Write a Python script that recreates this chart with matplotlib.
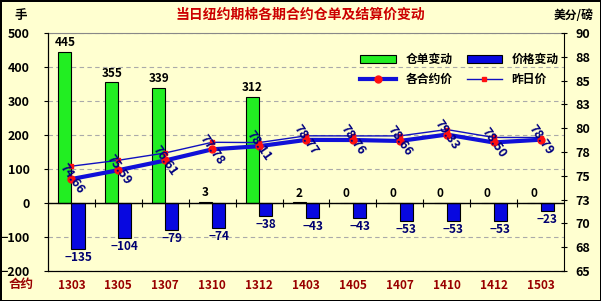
import numpy as np
import matplotlib
matplotlib.use("Agg")
import matplotlib.pyplot as plt

plt.rcParams['font.family'] = ['Noto Sans CJK SC', 'DejaVu Sans']
plt.rcParams['font.weight'] = 'bold'
plt.rcParams['axes.unicode_minus'] = False

contracts = ["1303", "1305", "1307", "1310", "1312", "1403", "1405", "1407", "1410", "1412", "1503"]
receipt_chg = [445, 355, 339, 3, 312, 2, 0, 0, 0, 0, 0]
price_chg = [-135, -104, -79, -74, -38, -43, -43, -53, -53, -53, -23]
settle = [74.66, 75.59, 76.61, 77.78, 78.11, 78.77, 78.76, 78.66, 79.33, 78.50, 78.79]
prev_settle = [76.01, 76.63, 77.40, 78.52, 78.49, 79.20, 79.19, 79.19, 79.86, 79.03, 79.02]

bg = '#ffffd0'
fig = plt.figure(figsize=(6.01, 3.01), dpi=100, facecolor=bg, edgecolor='black', linewidth=2)
ax = fig.add_axes([48/601, 1-271/301, 516/601, 238/301])
ax.set_facecolor(bg)

x = np.arange(len(contracts))
w = 0.28
b1 = ax.bar(x - w/2, receipt_chg, w, color='#22ee22', edgecolor='black', linewidth=0.8, label='仓单变动', zorder=3)
b2 = ax.bar(x + w/2, price_chg, w, color='#0808e0', edgecolor='black', linewidth=0.8, label='价格变动', zorder=3)

for xi, v in zip(x, receipt_chg):
    ax.text(xi - w/2, v + 8, str(v), ha='center', va='bottom', fontsize=8.5, color='black', zorder=6)
for xi, v in zip(x, price_chg):
    ax.text(xi + w/2, v - 6, f"−{abs(v)}", ha='center', va='top', fontsize=8.5, color='#000070', zorder=6)

ax.set_xlim(-0.5, len(contracts) - 0.5)
ax.set_ylim(-200, 500)
ax.set_yticks(np.arange(-200, 501, 100))
ax.set_yticklabels([f"−{abs(t)}" if t < 0 else str(t) for t in range(-200, 501, 100)])
ax.yaxis.grid(True, linestyle=(0, (4, 3)), color='#aaaaaa', linewidth=0.8)
ax.set_axisbelow(True)
ax.axhline(0, color='black', linewidth=1, zorder=4)
ax.set_xticks(x)
ax.set_xticklabels(contracts, color='#990000', fontsize=8.5)
ax.tick_params(axis='x', length=0, pad=6)
ax.tick_params(axis='y', labelsize=9, length=3, pad=10)
ax.spines['top'].set_color('#888888')
ax.spines['right'].set_visible(False)

# tick marks along the zero line, between categories
zx = ax.secondary_xaxis(200/700)
zx.set_xticks(x[:-1] + 0.5)
zx.set_xticklabels([])
zx.tick_params(direction='inout', length=6, color='black')
zx.spines['bottom'].set_visible(False)

ax2 = ax.twinx()
ax2.set_ylim(65, 90)
rt = np.arange(65, 90.01, 2.5)
ax2.set_yticks(rt)
ax2.set_yticklabels([str(int(v + 0.5)) for v in rt])
ax2.tick_params(axis='y', labelsize=9, length=4, direction='inout', pad=6)
ax2.spines['right'].set_color('black')
ax2.spines['top'].set_visible(False)

l2, = ax2.plot(x, prev_settle, color='#1010c0', linewidth=1, marker='s', markersize=3,
               markerfacecolor='#ff1010', markeredgecolor='#ff1010', label='昨日价', zorder=4)
l1, = ax2.plot(x, settle, color='#1010d8', linewidth=3, marker='o', markersize=5,
               markerfacecolor='#ff1010', markeredgecolor='#ff1010', label='各合约价', zorder=5)
for xi, v in zip(x, settle):
    ax2.text(xi, v, f"{v:.2f}", rotation=-55, ha='center', va='center', fontsize=9,
             color='#000080', zorder=6)

ax.legend([b1, l1, b2, l2], ['仓单变动', '各合约价', '价格变动', '昨日价'], ncol=2,
          loc='upper left', bbox_to_anchor=(0.585, 0.96), frameon=False, fontsize=8.5,
          handlelength=3.0, columnspacing=1.2, labelspacing=0.6)

fig.text(0.5, 0.95, '当日纽约期棉各期合约仓单及结算价变动', ha='center', va='center',
         fontsize=10, color='#cc0000')
fig.text(0.035, 0.95, '手', ha='center', va='center', fontsize=9)
fig.text(0.955, 0.95, '美分/磅', ha='center', va='center', fontsize=8.5)
fig.text(0.035, 1-284/301, '合约', ha='center', va='center', fontsize=9, color='#990000')

fig.savefig('out.png', dpi=100, facecolor=bg, edgecolor='black')
